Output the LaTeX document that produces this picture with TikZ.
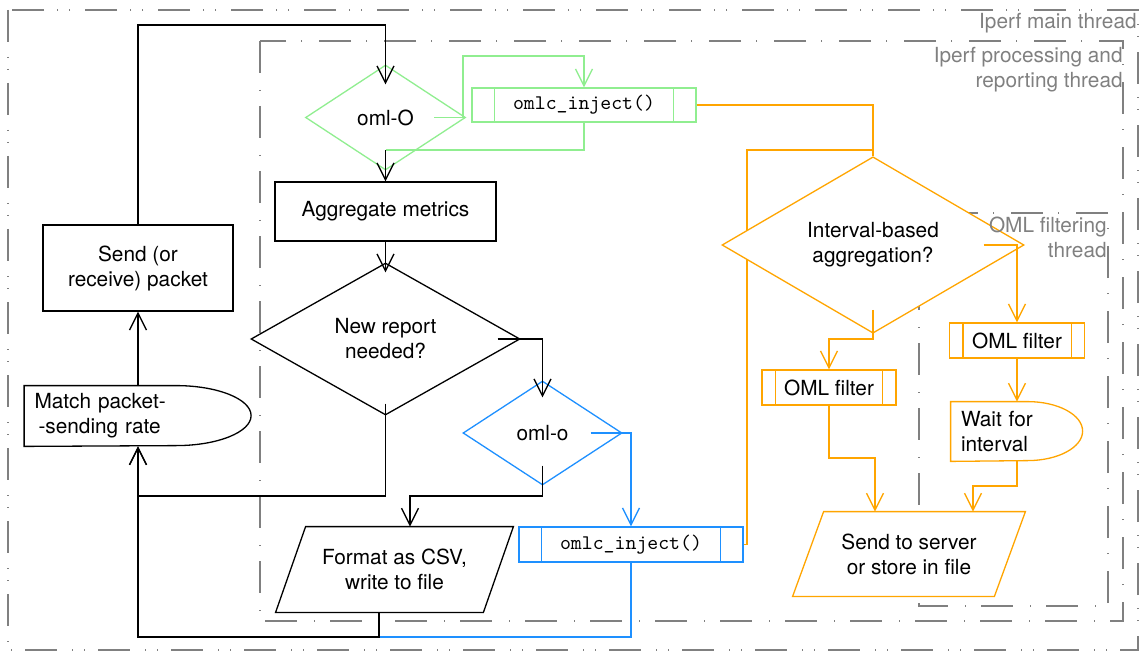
\documentclass[tikz,border=0pt]{standalone}
\usepackage{fontspec}
\setmainfont{TeX Gyre Heros}
\usetikzlibrary{shapes.geometric,arrows.meta}
\pgfdeclarelayer{background}
\pgfsetlayers{background,main}
\definecolor{cgreen}{RGB}{144,238,144}
\definecolor{cblue}{RGB}{30,144,255}
\definecolor{corange}{RGB}{255,165,0}
\definecolor{cgray}{RGB}{128,128,128}
\tikzset{
  base/.style={font=\fontsize{10.4pt}{12.5pt}\selectfont, inner sep=0pt},
  line/.style={line width=0.65pt},
  arr/.style={line, -{Straight Barb[length=8.5pt,width=8.5pt]}},
  arrg/.style={arr, cgreen},
  arrb/.style={arr, cblue},
  arro/.style={arr, corange},
  outerframe/.style={draw=cgray, line width=0.65pt, dash pattern=on 16pt off 7.5pt on 0.5pt off 5.5pt on 0.5pt off 6.5pt},
  innerframe/.style={draw=cgray, line width=0.65pt, dash pattern=on 16pt off 8.5pt on 0.5pt off 7.5pt},
  lbl/.style={base, text=cgray, align=right},
  box/.style={base, rectangle, draw, fill=white, line width=0.65pt, align=center},
  plain/.style={base, rectangle, fill=white, align=center},
  dia/.style={base, diamond, draw, fill=white, line width=0.65pt, align=center},
  proc/.style={base, rectangle, draw, fill=white, line width=0.65pt, font=\fontsize{10.4pt}{12.5pt}\selectfont\ttfamily},
  proctwo/.style={base, rectangle, draw, fill=white, line width=0.65pt},
}
\begin{document}
\begin{tikzpicture}[x=0.5pt,y=-0.5pt]
\useasboundingbox (0,0) rectangle (1139,652);

% nodes
\node[dia, draw=cgreen, minimum width=80pt, minimum height=52.5pt] (omlO) at (385.5,117.5) {oml-O};
\node[proc, draw=cgreen, minimum width=112pt, minimum height=17pt] (injG) at (584,105) {omlc\_inject()};
\node[box, minimum width=110.5pt, minimum height=29.5pt] (agg) at (385.5,211.5) {Aggregate metrics};
\node[dia, minimum width=134.5pt, minimum height=76pt] (newrep) at (385.5,339) {New report\\needed?};
\node[dia, draw=cblue, minimum width=79.5pt, minimum height=52pt] (omlo) at (542.5,433) {oml-o};
\node[proc, draw=cblue, minimum width=112pt, minimum height=17.5pt] (injB) at (631,544.5) {omlc\_inject()};
\node[plain, minimum width=118.5pt, minimum height=42.5pt] (fmt) at (394.5,569.5) {Format as CSV,\\write to file};
\node[box, minimum width=95pt, minimum height=43pt] (send) at (138,268) {Send (or\\receive) packet};
\node[plain, minimum width=113.5pt, minimum height=30pt, text width=103.5pt, align=left] (match) at (138,416) {Match packet-\\\hspace*{2pt}-sending rate};
\node[dia, draw=corange, minimum width=151pt, minimum height=87pt] (interval) at (873,245) {Interval-based\\aggregation?};
\node[proctwo, draw=corange, minimum width=67pt, minimum height=17.5pt] (filt1) at (829,387.5) {OML filter};
\node[proctwo, draw=corange, minimum width=67.5pt, minimum height=17.5pt] (filt2) at (1017,340.5) {OML filter};
\node[plain, minimum width=66pt, minimum height=29.5pt, text width=56pt, align=left] (wait) at (1017,431.5) {Wait for\\interval};
\node[plain, minimum width=116pt, minimum height=42pt] (sendsrv) at (909,554) {Send to server\\or store in file};

% inner bars of predefined processes
\draw[line, cgreen] ([xshift=11.5pt]injG.north west) -- ([xshift=11.5pt]injG.south west);
\draw[line, cgreen] ([xshift=-11.5pt]injG.north east) -- ([xshift=-11.5pt]injG.south east);
\draw[line, cblue] ([xshift=11.5pt]injB.north west) -- ([xshift=11.5pt]injB.south west);
\draw[line, cblue] ([xshift=-11.5pt]injB.north east) -- ([xshift=-11.5pt]injB.south east);
\draw[line, corange] ([xshift=7pt]filt1.north west) -- ([xshift=7pt]filt1.south west);
\draw[line, corange] ([xshift=-7pt]filt1.north east) -- ([xshift=-7pt]filt1.south east);
\draw[line, corange] ([xshift=7pt]filt2.north west) -- ([xshift=7pt]filt2.south west);
\draw[line, corange] ([xshift=-7pt]filt2.north east) -- ([xshift=-7pt]filt2.south east);

% parallelogram outlines
\draw[line] ([xshift=15pt]fmt.north west) -- (fmt.north east) -- ([xshift=-15pt]fmt.south east) -- (fmt.south west) -- cycle;
\draw[line, corange] ([xshift=15.5pt]sendsrv.north west) -- (sendsrv.north east) -- ([xshift=-15.5pt]sendsrv.south east) -- (sendsrv.south west) -- cycle;

% delay outlines
\draw[line] (match.north west) -- ([xshift=76pt]match.north west) arc[start angle=90, end angle=-90, x radius=37.5pt, y radius=15pt] -- (match.south west) -- cycle;
\draw[line, corange] (wait.north west) -- ([xshift=38.5pt]wait.north west) arc[start angle=90, end angle=-90, x radius=27.5pt, y radius=14.75pt] -- (wait.south west) -- cycle;

% background: frames and hidden connector
\begin{pgfonlayer}{background}
\draw[outerframe] (8,10) rectangle (1138,650);
\draw[innerframe] (260,41) rectangle (1123,621);
\draw[innerframe] (919,213) rectangle (1108,606);
\draw[line, corange] (injB.east) -- (747,544.5) |- (873,150);
\end{pgfonlayer}

% black connectors
\coordinate (j1) at (385.5,150);
\draw[arr] (send.north) |- (385.5,25) -- ([yshift=-10pt]omlO.north);
\draw[line, cgreen] (injG.south) |- (j1);
\draw[arr] (j1) -- (agg.north);
\draw[arr] (agg.south) -- ([yshift=-5pt]newrep.north);
\draw[arr] ([xshift=-11.5pt]newrep.east) -| ([yshift=-8.5pt]omlo.north);
\draw[arr] ([yshift=6pt]newrep.south) |- (138,496) -- (match.south);
\draw[arr] ([yshift=10pt]omlo.south) |- (410,496) -- ([xshift=7.75pt]fmt.north);
\draw[line, cblue] (injB.south) |- (379,637);
\draw[arr] ([xshift=-7.75pt]fmt.south) |- (138,637) -- (match.south);
\draw[arr] (match.north) -- (send.south);

% green
\draw[arrg] ([xshift=-16pt]omlO.east) -- (463,117.5) |- (584,56) -- (injG.north);

% blue
\draw[arrb] ([xshift=-16pt]omlo.east) -| (injB.north);

% orange
\draw[line, corange] (injG.east) -| (interval.north);
\draw[arro] ([xshift=-20.5pt]interval.east) -| (filt2.north);
\draw[arro] ([yshift=12pt]interval.south) |- (829,339) -- (filt1.north);
\draw[arro] (filt1.south) |- (875,458) -- ([xshift=-17pt]sendsrv.north);
\draw[arro] (filt2.south) -- (wait.north);
\draw[arro] (wait.south) |- (973,486) -- ([xshift=32pt]sendsrv.north);

% frame labels
\node[lbl, anchor=north east] (lmain) at (1137,13) {Iperf main thread};
\node[lbl, anchor=north east] (lproc) at (1123,47) {Iperf processing and\\reporting thread};
\node[lbl, anchor=north east] (lfilt) at (1107,217) {OML filtering\\thread};
\end{tikzpicture}
\end{document}
